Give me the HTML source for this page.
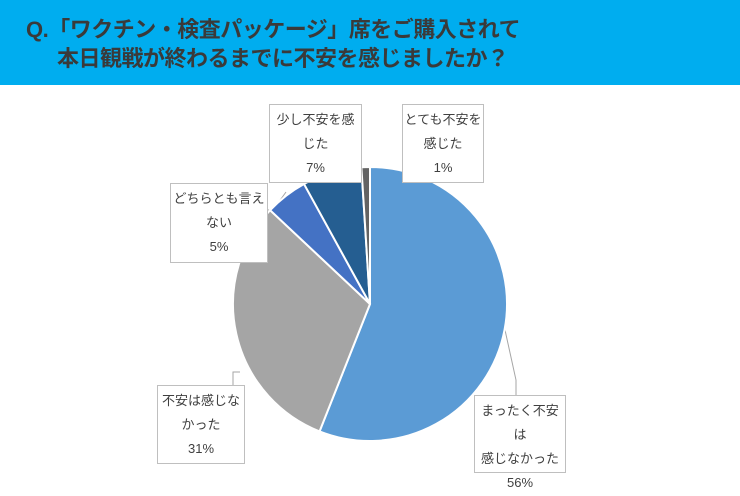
<!DOCTYPE html>
<html><head><meta charset="utf-8"><style>
body{margin:0;width:740px;height:496px;background:#fff;overflow:hidden;font-family:"Liberation Sans","Noto Sans CJK JP",sans-serif;}
#hdr{position:absolute;left:0;top:0;width:740px;height:85px;background:#00ADEF;}
.t{position:absolute;font-weight:bold;font-size:22px;color:#3a3a3a;white-space:nowrap;letter-spacing:-0.5px}
.lbl{position:absolute;background:#fff;border:1px solid #BFBFBF;font-size:13px;line-height:24px;color:#404040;text-align:center;box-sizing:border-box;padding-top:3px}
</style></head><body>
<div id="hdr">
<div class="t" style="left:26px;top:12px">Q.「ワクチン・検査パッケージ」席をご購入されて</div>
<div class="t" style="left:57px;top:41px">本日観戦が終わるまでに不安を感じましたか？</div>
</div>
<svg id="chart" width="740" height="496" style="position:absolute;left:0;top:0">
<g id="lines" stroke="#A6A6A6" stroke-width="1" fill="none">
<polyline points="362,172 365,168"/>
<polyline points="402,172 368,168"/>
<polyline points="268,210 273,210 286,192"/>
<polyline points="233,385 233,372 240,372"/>
<polyline points="516,395 516,380 505,330"/>
</g>
<g id="slices"></g>
</svg>
<div class="lbl" style="left:269px;top:104px;width:93px;height:79px">少し不安を感<br>じた<br>7%</div>
<div class="lbl" style="left:402px;top:104px;width:82px;height:79px">とても不安を<br>感じた<br>1%</div>
<div class="lbl" style="left:170px;top:183px;width:98px;height:80px">どちらとも言え<br>ない<br>5%</div>
<div class="lbl" style="left:157px;top:385px;width:88px;height:79px">不安は感じな<br>かった<br>31%</div>
<div class="lbl" style="left:474px;top:395px;width:92px;height:78px">まったく不安は<br>感じなかった<br>56%</div>
<script>
const categories=["まったく不安は感じなかった","不安は感じなかった","どちらとも言えない","少し不安を感じた","とても不安を感じた"];
const values=[56,31,5,7,1];
const colors=["#5B9BD5","#A5A5A5","#4472C4","#255E91","#636363"];
const cx=370,cy=304,r=137;
const total=values.reduce((a,b)=>a+b,0);
const g=document.getElementById('slices');
function pt(a){return [cx+r*Math.sin(a),cy-r*Math.cos(a)];}
let acc=0;
values.forEach((v,i)=>{
  const a0=acc/total*2*Math.PI; acc+=v; const a1=acc/total*2*Math.PI;
  const p0=pt(a0),p1=pt(a1);
  const large=(a1-a0)>Math.PI?1:0;
  const p=document.createElementNS('http://www.w3.org/2000/svg','path');
  p.setAttribute('d',`M${cx},${cy}L${p0[0]},${p0[1]}A${r},${r} 0 ${large} 1 ${p1[0]},${p1[1]}Z`);
  p.setAttribute('fill',colors[i]);
  p.setAttribute('stroke','#fff');
  p.setAttribute('stroke-width','2');
  
  
  g.appendChild(p);
});
</script>
</body></html>
